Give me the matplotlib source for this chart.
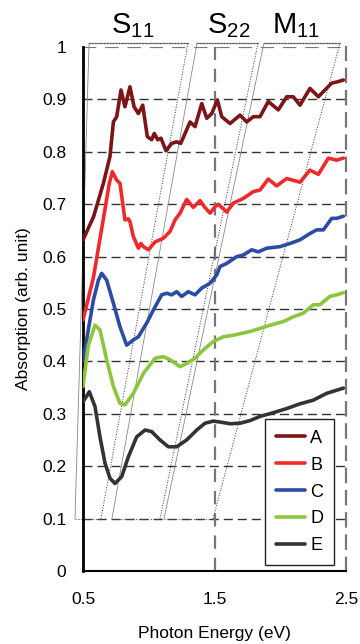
import matplotlib

matplotlib.use("Agg")

import matplotlib.pyplot as plt

plt.rcParams["font.family"] = ["Liberation Sans", "DejaVu Sans"]
plt.rcParams["mathtext.fontset"] = "custom"
plt.rcParams["mathtext.rm"] = "Liberation Sans"

# photon energy (eV) / absorption (arb. unit)
a_energy = [0.50, 0.58, 0.655, 0.705, 0.731, 0.756, 0.789, 0.819, 0.857, 0.888, 0.921,
            0.954, 0.989, 1.022, 1.042, 1.068, 1.093, 1.131, 1.174, 1.212, 1.243, 1.276,
            1.314, 1.352, 1.403, 1.441, 1.479, 1.522, 1.555, 1.618, 1.694, 1.745, 1.795,
            1.846, 1.909, 1.985, 2.049, 2.099, 2.150, 2.226, 2.290, 2.328, 2.391, 2.442, 2.48]
a_abs = [0.632, 0.676, 0.740, 0.791, 0.857, 0.867, 0.918, 0.886, 0.924, 0.886, 0.873,
         0.889, 0.829, 0.823, 0.835, 0.823, 0.826, 0.802, 0.816, 0.819, 0.816, 0.835,
         0.857, 0.848, 0.892, 0.864, 0.873, 0.899, 0.867, 0.854, 0.870, 0.857, 0.867,
         0.867, 0.896, 0.880, 0.905, 0.905, 0.889, 0.921, 0.905, 0.915, 0.931, 0.934, 0.937]

b_energy = [0.50, 0.579, 0.66, 0.70, 0.723, 0.756, 0.781, 0.819, 0.845, 0.857, 0.883,
            0.921, 0.940, 0.959, 0.997, 1.048, 1.111, 1.162, 1.200, 1.238, 1.288, 1.339,
            1.39, 1.423, 1.466, 1.504, 1.529, 1.593, 1.643, 1.719, 1.795, 1.846, 1.909,
            1.973, 2.049, 2.150, 2.226, 2.290, 2.366, 2.429, 2.48]
b_abs = [0.479, 0.560, 0.680, 0.740, 0.762, 0.746, 0.740, 0.670, 0.672, 0.667, 0.638,
         0.616, 0.625, 0.619, 0.613, 0.628, 0.635, 0.648, 0.670, 0.683, 0.709, 0.694,
         0.707, 0.695, 0.683, 0.695, 0.700, 0.685, 0.702, 0.711, 0.724, 0.727, 0.748,
         0.735, 0.749, 0.742, 0.765, 0.757, 0.788, 0.784, 0.788]

c_energy = [0.50, 0.54, 0.579, 0.617, 0.642, 0.680, 0.731, 0.781, 0.832, 0.883, 0.921,
            0.984, 1.035, 1.098, 1.136, 1.174, 1.212, 1.250, 1.301, 1.352, 1.403, 1.466,
            1.517, 1.542, 1.593, 1.669, 1.719, 1.783, 1.833, 1.897, 1.998, 2.074, 2.150,
            2.226, 2.277, 2.328, 2.391, 2.429, 2.48]
c_abs = [0.400, 0.460, 0.517, 0.555, 0.568, 0.555, 0.511, 0.466, 0.431, 0.441, 0.447,
         0.473, 0.498, 0.527, 0.530, 0.527, 0.533, 0.524, 0.533, 0.527, 0.540, 0.549,
         0.565, 0.581, 0.587, 0.600, 0.603, 0.613, 0.609, 0.616, 0.619, 0.625, 0.632,
         0.644, 0.651, 0.651, 0.673, 0.673, 0.677]

d_energy = [0.50, 0.54, 0.591, 0.629, 0.680, 0.731, 0.781, 0.819, 0.883, 0.959, 1.048,
            1.111, 1.162, 1.238, 1.288, 1.352, 1.415, 1.491, 1.567, 1.643, 1.770, 1.846,
            1.922, 2.023, 2.099, 2.175, 2.251, 2.30, 2.378, 2.429, 2.48]
d_abs = [0.352, 0.430, 0.469, 0.460, 0.403, 0.352, 0.320, 0.317, 0.339, 0.377, 0.406,
         0.409, 0.403, 0.390, 0.396, 0.406, 0.422, 0.438, 0.447, 0.450, 0.457, 0.463,
         0.469, 0.476, 0.485, 0.492, 0.508, 0.508, 0.524, 0.527, 0.531]

e_energy = [0.50, 0.548, 0.591, 0.629, 0.667, 0.705, 0.743, 0.794, 0.845, 0.908, 0.972,
            1.022, 1.086, 1.149, 1.212, 1.288, 1.365, 1.428, 1.491, 1.55, 1.618, 1.694,
            1.770, 1.846, 1.947, 2.049, 2.150, 2.251, 2.353, 2.48]
e_abs = [0.323, 0.342, 0.314, 0.256, 0.206, 0.177, 0.167, 0.180, 0.218, 0.256, 0.269,
         0.266, 0.250, 0.237, 0.237, 0.250, 0.269, 0.282, 0.286, 0.284, 0.281, 0.282,
         0.287, 0.295, 0.302, 0.310, 0.319, 0.326, 0.339, 0.349]

labels = ["A", "B", "C", "D", "E"]
colors = ["#7b1518", "#ee2a2d", "#2b4ca2", "#8cc63f", "#333333"]

# zoom-window guides: energy range at the bottom (y=0.1) -> band label range at the top
band_names = [r"S$_{\mathregular{11}}$", r"S$_{\mathregular{22}}$", r"M$_{\mathregular{11}}$"]
band_label_x = [0.88, 1.61, 2.12]
guide_bottom = [(0.439, 0.637), (0.720, 1.086), (1.116, 1.489)]
guide_top = [(0.546, 1.298), (1.367, 1.831), (1.876, 2.454)]

fig = plt.figure(figsize=(3.6, 6.44), dpi=100)
ax = fig.add_axes([0.2306, 0.1134, 0.7305, 0.8136])

# grid
for y in [0.1, 0.2, 0.3, 0.4, 0.5, 0.6, 0.7, 0.8, 0.9]:
    ax.axhline(y, color="#333333", lw=1.0, dashes=(6.5, 3.6), zorder=1)
ax.axhline(1.0, color="#777777", lw=1.6, dashes=(6, 4), zorder=1)
ax.axvline(1.5, color="#777777", lw=1.6, dashes=(6, 4), zorder=1)

# guide lines
y_bot, y_top = 0.1, 1.0076
for (b0, b1), (t0, t1) in zip(guide_bottom, guide_top):
    ax.plot([b0, b1], [y_bot, y_bot], color="#555555", lw=0.8, ls=":", clip_on=False, zorder=2)
    ax.plot([t0, t1], [y_top, y_top], color="#888888", lw=0.9, ls="-", clip_on=False, zorder=2)
    ax.plot([t0, t1], [y_top, y_top], color="#444444", lw=0.8, ls=":", clip_on=False, zorder=2)
    ax.plot([b0, t0], [y_bot, y_top], color="#888888", lw=0.6, ls="-", clip_on=False, zorder=2)
    ax.plot([b1, t1], [y_bot, y_top], color="#333333", lw=0.7, ls=":", clip_on=False, zorder=2)

for name, x in zip(band_names, band_label_x):
    ax.text(x, 1.027, name, fontsize=21, ha="center", va="baseline",
            transform=ax.get_xaxis_transform())

series = [(a_energy, a_abs), (b_energy, b_abs), (c_energy, c_abs),
          (d_energy, d_abs), (e_energy, e_abs)]
for (xs, ys), lab, col in zip(series, labels, colors):
    ax.plot(xs, ys, color=col, lw=2.6, label=lab, solid_joinstyle="round",
            solid_capstyle="round", zorder=3)

ax.set_xlim(0.5, 2.5)
ax.set_ylim(0, 1)
ax.set_xticks([0.5, 1.5, 2.5])
ax.set_xticklabels(["0.5", "1.5", "2.5"])
ax.set_yticks([i / 10 for i in range(11)])
ax.set_yticklabels(["0", "0.1", "0.2", "0.3", "0.4", "0.5", "0.6", "0.7", "0.8", "0.9", "1"])
ax.tick_params(axis="x", length=0, pad=15, labelsize=12.5)
ax.tick_params(axis="y", length=0, pad=12, labelsize=12.5)

ax.spines["left"].set_linewidth(2.0)
ax.spines["bottom"].set_linewidth(1.5)
ax.spines["top"].set_visible(False)
ax.spines["right"].set_color("#777777")
ax.spines["right"].set_linewidth(1.6)
ax.spines["right"].set_linestyle((0, (6, 4)))

ax.set_xlabel("Photon Energy (eV)", fontsize=12.5, labelpad=14)
ax.set_ylabel("Absorption (arb. unit)", fontsize=12.5, labelpad=8)

leg = ax.legend(loc="lower right", bbox_to_anchor=(0.954, 0.011), fontsize=13,
                frameon=True, fancybox=False, edgecolor="#222222", framealpha=1,
                handlelength=1.6, handletextpad=0.3, labelspacing=0.55,
                borderpad=0.6, borderaxespad=0)
leg.get_frame().set_linewidth(1.0)

fig.savefig("out.png", dpi=100)
